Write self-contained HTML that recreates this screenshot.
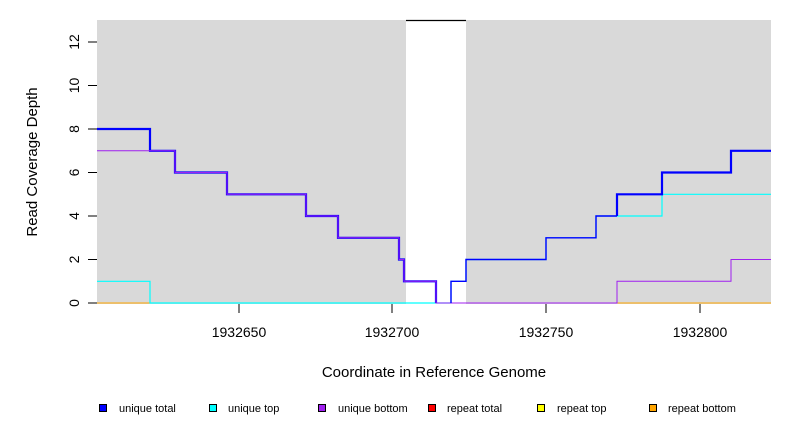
<!DOCTYPE html>
<html><head><meta charset="utf-8"><style>
html,body{margin:0;padding:0;background:#fff;}
svg{display:block;font-family:"Liberation Sans",sans-serif;}
</style></head><body>
<svg width="792" height="432" viewBox="0 0 792 432" xmlns="http://www.w3.org/2000/svg">
<rect x="97" y="20" width="309" height="284" fill="#d9d9d9"/>
<rect x="466" y="20" width="305" height="284" fill="#d9d9d9"/>
<line x1="406" y1="20.5" x2="466" y2="20.5" stroke="#000" stroke-width="1.2"/>
<g fill="none" stroke-linejoin="miter">
<line x1="97" y1="303" x2="771" y2="303" stroke="#ffa500" stroke-width="1"/>
<polyline stroke="#00ffff" stroke-width="1.2" points="97,281.3 150,281.3 150,303 451,303 451,281.3 466,281.3 466,259.5 546,259.5 546,237.8 596,237.8 596,216 662,216 662,194.3 771,194.3"/>
<polyline stroke="#0000ff" stroke-width="2.2" points="97,129 150,129 150,150.8 175,150.8 175,172.5 227,172.5 227,194.3 306,194.3 306,216 338,216 338,237.8 399,237.8 399,259.5 404,259.5 404,281.3 436,281.3 436,303"/>
<polyline stroke="#a020f0" stroke-width="1" points="97,150.8 175,150.8 175,172.5 227,172.5 227,194.3 306,194.3 306,216 338,216 338,237.8 399,237.8 399,259.5 404,259.5 404,281.3 436,281.3 436,303 617,303 617,281.3 731,281.3 731,259.5 771,259.5"/>
<polyline stroke="#0000ff" stroke-width="1.4" points="451,303 451,281.3 466,281.3 466,259.5 546,259.5 546,237.8 596,237.8 596,216 617,216"/>
<polyline stroke="#0000ff" stroke-width="2.2" points="617,216 617,194.3 662,194.3 662,172.5 731,172.5 731,150.8 771,150.8"/>
</g>
<g stroke="#000" stroke-width="1">
<line x1="88" y1="303" x2="97" y2="303"/>
<line x1="88" y1="259.5" x2="97" y2="259.5"/>
<line x1="88" y1="216" x2="97" y2="216"/>
<line x1="88" y1="172.5" x2="97" y2="172.5"/>
<line x1="88" y1="129" x2="97" y2="129"/>
<line x1="88" y1="85.5" x2="97" y2="85.5"/>
<line x1="88" y1="42" x2="97" y2="42"/>
<line x1="239" y1="304" x2="239" y2="313"/>
<line x1="392" y1="304" x2="392" y2="313"/>
<line x1="546" y1="304" x2="546" y2="313"/>
<line x1="700" y1="304" x2="700" y2="313"/>
</g>
<g font-size="14" fill="#000" text-anchor="middle">
<text transform="translate(74,303) rotate(-90)" dy="5">0</text>
<text transform="translate(74,259.5) rotate(-90)" dy="5">2</text>
<text transform="translate(74,216) rotate(-90)" dy="5">4</text>
<text transform="translate(74,172.5) rotate(-90)" dy="5">6</text>
<text transform="translate(74,129) rotate(-90)" dy="5">8</text>
<text transform="translate(74,85.5) rotate(-90)" dy="5">10</text>
<text transform="translate(74,42) rotate(-90)" dy="5">12</text>
<text x="239" y="337">1932650</text>
<text x="392" y="337">1932700</text>
<text x="546" y="337">1932750</text>
<text x="700" y="337">1932800</text>
<text x="434" y="377" font-size="15">Coordinate in Reference Genome</text>
<text transform="translate(37,162) rotate(-90)" font-size="15">Read Coverage Depth</text>
</g>
<g stroke="#000" stroke-width="1">
<rect x="99.5" y="404.5" width="7" height="7" fill="#0000ff"/>
<rect x="209.5" y="404.5" width="7" height="7" fill="#00ffff"/>
<rect x="318.5" y="404.5" width="7" height="7" fill="#a020f0"/>
<rect x="428.5" y="404.5" width="7" height="7" fill="#ff0000"/>
<rect x="537.5" y="404.5" width="7" height="7" fill="#ffff00"/>
<rect x="649.5" y="404.5" width="7" height="7" fill="#ffa500"/>
</g>
<g font-size="11" fill="#000">
<text x="119" y="412">unique total</text>
<text x="228" y="412">unique top</text>
<text x="338" y="412">unique bottom</text>
<text x="447" y="412">repeat total</text>
<text x="557" y="412">repeat top</text>
<text x="668" y="412">repeat bottom</text>
</g>
</svg>
</body></html>
